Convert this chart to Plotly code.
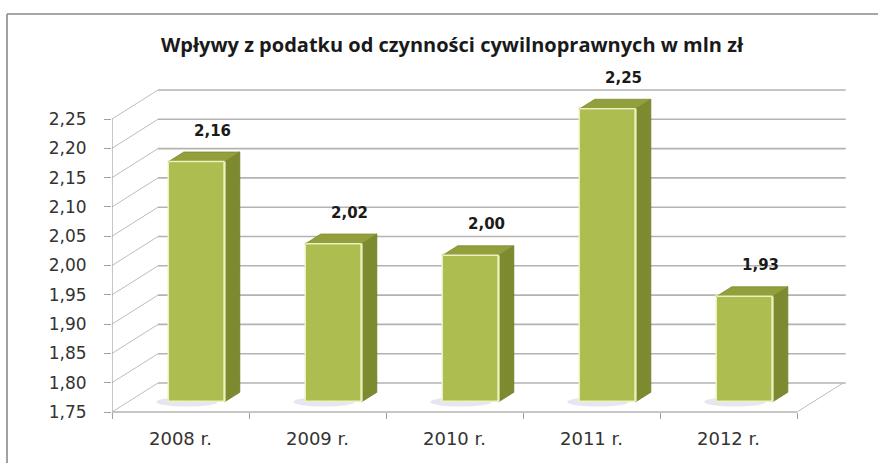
import plotly.graph_objects as go

# ---- data ----
categories = ["2008 r.", "2009 r.", "2010 r.", "2011 r.", "2012 r."]
values = [2.16, 2.02, 2.00, 2.25, 1.93]
y_ticks = [1.75, 1.80, 1.85, 1.90, 1.95, 2.00, 2.05, 2.10, 2.15, 2.20, 2.25]
title_text = "Wpływy z podatku od czynności cywilnoprawnych w mln zł"

# ---- geometry / style ----
W, H = 888, 463
Y_MIN, Y_MAX = y_ticks[0], y_ticks[-1]
PX_PER_X = 137.0          # pixels per category
PX_PER_Y = 586.0          # pixels per value unit
AX_LEFT_PX = 112          # front y axis position
FLOOR_PX = 412            # front floor edge
DX = 46 / PX_PER_X        # full depth shift (x units)
DY = 29 / PX_PER_Y        # full depth shift (y units)
D0 = 0.35                 # depth of bar front face
DD = 0.33                 # bar depth
BAR_W = 0.409

FRONT = "#adbd4f"
SIDE = "#7d8a2f"
TOP = "#939f3c"
EDGE = "#eef1bf"
GRID = "#b3b3b3"

n = len(categories)
xs = list(range(n))
x_lo = -0.5
x_hi = x_lo + (W - AX_LEFT_PX) / PX_PER_X
y_lo = Y_MIN - (H - FLOOR_PX) / PX_PER_Y
y_hi = Y_MIN + FLOOR_PX / PX_PER_Y

base = Y_MIN + D0 * DY
bar_off = -BAR_W / 2 + D0 * DX

fig = go.Figure()
fig.add_trace(go.Bar(
    x=xs, y=[v - Y_MIN for v in values], base=base,
    width=BAR_W, offset=bar_off,
    marker=dict(color=FRONT, line=dict(color=EDGE, width=1.5)),
    hoverinfo="skip", showlegend=False,
))

shapes = []
# back wall gridlines and left wall diagonals
for t in y_ticks:
    shapes.append(dict(type="line", xref="x", yref="y", layer="below",
                       x0=x_lo + DX, x1=x_lo + n + DX + 0.02, y0=t + DY, y1=t + DY,
                       line=dict(color=GRID, width=1.6)))
    shapes.append(dict(type="line", xref="x", yref="y", layer="below",
                       x0=x_lo, x1=x_lo + DX, y0=t, y1=t + DY,
                       line=dict(color="#bdbdbd", width=1)))
# front y axis line
shapes.append(dict(type="line", xref="x", yref="y", layer="below",
                   x0=x_lo, x1=x_lo, y0=Y_MIN, y1=Y_MAX,
                   line=dict(color="#a0a0a0", width=1.2)))
# floor front edge and right edge
shapes.append(dict(type="line", xref="x", yref="y", layer="below",
                   x0=x_lo, x1=x_lo + n, y0=Y_MIN, y1=Y_MIN,
                   line=dict(color=GRID, width=1.6)))
shapes.append(dict(type="line", xref="x", yref="y", layer="below",
                   x0=x_lo + n, x1=x_lo + n + DX, y0=Y_MIN, y1=Y_MIN + DY,
                   line=dict(color="#bdbdbd", width=1)))

annotations = []
for i, v in enumerate(values):
    xl = i + bar_off
    xr = xl + BAR_W
    top = v + D0 * DY
    ddx, ddy = DD * DX, DD * DY
    # base shadow (faint, to the left)
    shapes.append(dict(type="circle", xref="x", yref="y", layer="below",
                       x0=xl - 0.09, x1=xr - 0.05, y0=base - 0.008, y1=base + 0.008,
                       fillcolor="rgba(160,168,200,0.28)", line=dict(width=0)))
    # side face
    shapes.append(dict(type="path", xref="x", yref="y",
                       path=f"M{xr},{base} L{xr+ddx},{base+ddy} L{xr+ddx},{top+ddy} L{xr},{top} Z",
                       fillcolor=SIDE, line=dict(color="#6f7b27", width=0.8)))
    # top face
    shapes.append(dict(type="path", xref="x", yref="y",
                       path=f"M{xl},{top} L{xr},{top} L{xr+ddx},{top+ddy} L{xl+ddx},{top+ddy} Z",
                       fillcolor=TOP, line=dict(color="#7f8b30", width=0.8)))
    # front edge highlights
    shapes.append(dict(type="line", xref="x", yref="y",
                       x0=xr, x1=xr, y0=base, y1=top,
                       line=dict(color=EDGE, width=2)))
    shapes.append(dict(type="line", xref="x", yref="y",
                       x0=xl, x1=xr, y0=top, y1=top,
                       line=dict(color=EDGE, width=1.5)))
    annotations.append(dict(
        x=i + D0 * DX + ddx / 2 + 0.06, y=top, xref="x", yref="y",
        text=f"{v:.2f}".replace(".", ","), showarrow=False,
        yshift=31, yanchor="middle", xanchor="center",
        font=dict(family="DejaVu Sans", size=15, color="#1a1a1a", weight="bold")))

# outer frame
shapes.append(dict(type="line", xref="paper", yref="paper",
                   x0=7 / W, x1=7 / W, y0=0, y1=1 - 14 / H,
                   line=dict(color="#8a8a8a", width=1.6)))
shapes.append(dict(type="line", xref="paper", yref="paper",
                   x0=7 / W, x1=878 / W, y0=1 - 14 / H, y1=1 - 14 / H,
                   line=dict(color="#8a8a8a", width=1.6)))

fig.update_layout(
    width=W, height=H,
    margin=dict(l=0, r=0, t=0, b=0),
    paper_bgcolor="white", plot_bgcolor="white",
    separators=",.",
    title=dict(text=title_text, x=452 / W, xanchor="center",
               y=1 - 45 / H, yanchor="middle",
               font=dict(family="Open Sans", size=20, color="#1a1a1a", weight="bold")),
    xaxis=dict(domain=[AX_LEFT_PX / W, 1], range=[x_lo, x_hi],
               anchor="free", position=(H - FLOOR_PX) / H,
               tickvals=xs, ticktext=categories, ticks="",
               ticklabelstandoff=14,
               tickfont=dict(family="DejaVu Sans", size=18, color="#333333"),
               minor=dict(tickvals=[x_lo + k for k in range(n + 1)], ticks="outside",
                          ticklen=6, tickcolor="#a0a0a0", showgrid=False),
               showline=False, showgrid=False, zeroline=False, fixedrange=True),
    yaxis=dict(domain=[0, 1], range=[y_lo, y_hi],
               tickvals=y_ticks, tickformat=".2f", ticks="outside",
               ticklen=7, tickcolor="#a0a0a0", ticklabelstandoff=14,
               tickfont=dict(family="DejaVu Sans", size=17, color="#333333"),
               showline=False, showgrid=False, zeroline=False, fixedrange=True),
    shapes=shapes, annotations=annotations,
    bargap=0,
)

fig.write_html("out.html", config={"displayModeBar": False},
               post_script="document.body.style.margin='0';document.body.style.overflow='hidden';")
